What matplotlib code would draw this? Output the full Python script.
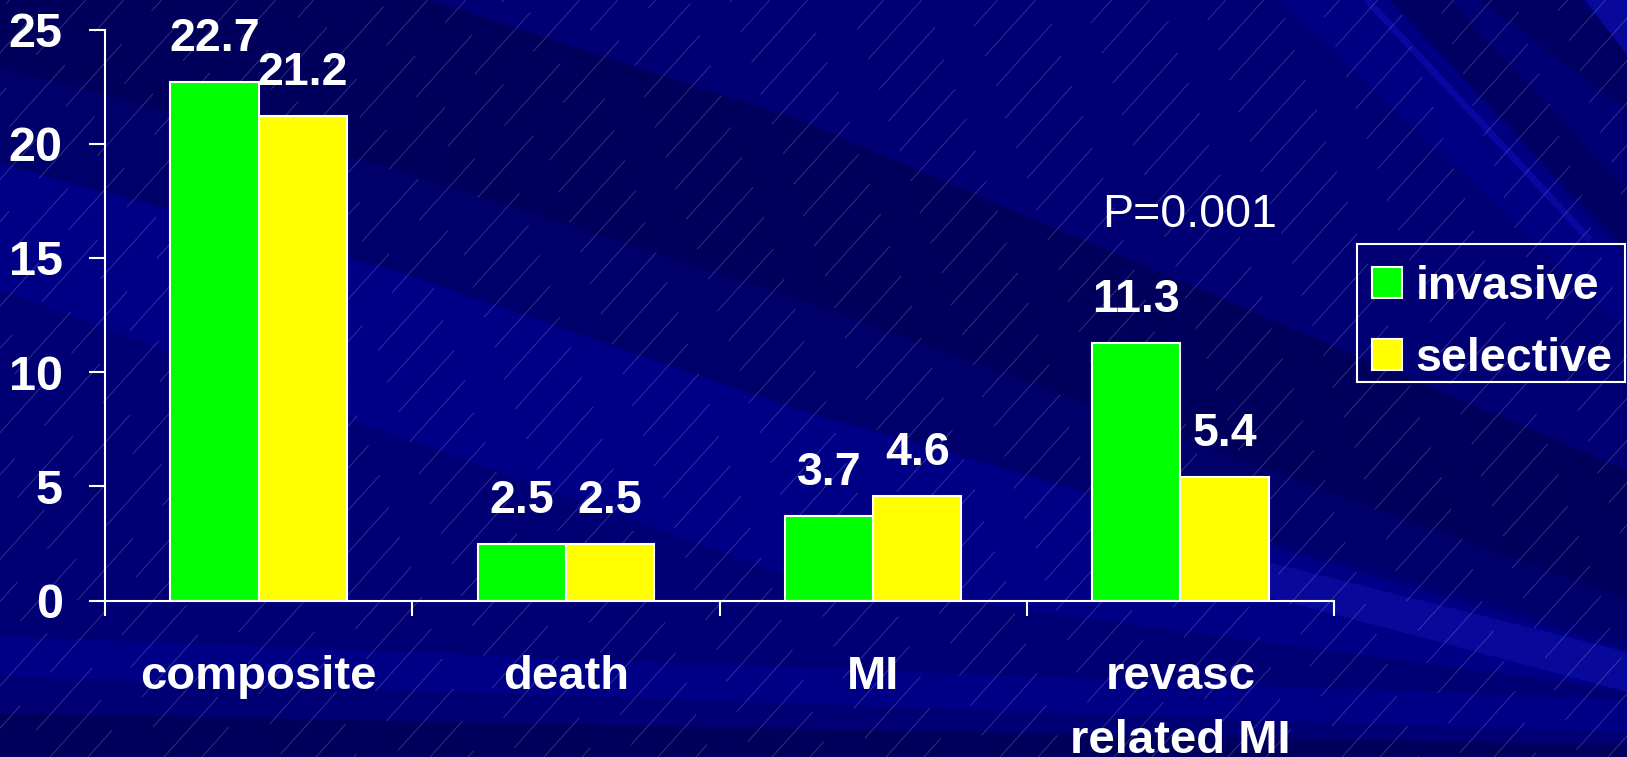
import numpy as np
import matplotlib
matplotlib.use("Agg")
import matplotlib.pyplot as plt
from matplotlib.patches import Rectangle

# ---- data -------------------------------------------------------------
categories = ["composite", "death", "MI", "revasc\nrelated MI"]
invasive = [22.7, 2.5, 3.7, 11.3]
selective = [21.2, 2.5, 4.6, 5.4]
series_names = ["invasive", "selective"]
y_ticks = [0, 5, 10, 15, 20, 25]
p_note = "P=0.001"

# ---- figure -----------------------------------------------------------
W, H, DPI = 1627, 757, 100
plt.rcParams["font.family"] = ["Liberation Sans", "DejaVu Sans"]
plt.rcParams["lines.scale_dashes"] = False

fig = plt.figure(figsize=(W / DPI, H / DPI), dpi=DPI, facecolor="#000074")

# slide-style backdrop: diagonal shaded streaks plus a fine hatch of lines
bg = fig.add_axes([0, 0, 1, 1], zorder=0)
bg.set_xlim(0, W)
bg.set_ylim(H, 0)
bg.axis("off")

DARK, LIGHT, BRIGHT = "#00005c", "#000086", "#08089a"

streaks = [
    (DARK, [(0, 0), (430, 0), (800, 120), (1627, 470), (1627, 600),
            (800, 300), (393, 169), (0, 68)]),
    ("#00006a", [(0, 68), (393, 169), (800, 300), (1627, 600), (1627, 640),
                 (800, 410), (393, 270), (0, 164)]),
    (LIGHT, [(0, 164), (393, 270), (800, 410), (1627, 650), (1627, 690),
             (800, 580), (393, 434), (0, 290)]),
    (BRIGHT, [(1100, 520), (1627, 652), (1627, 692), (1100, 552)]),
    (LIGHT, [(0, 636), (1627, 700), (1627, 732), (0, 676)]),
    (DARK, [(0, 713), (1627, 745), (1627, 757), (0, 757)]),
    ("#000082", [(1280, 0), (1390, 0), (1627, 260), (1627, 330)]),
    ("#000062", [(1390, 0), (1450, 0), (1627, 190), (1627, 250)]),
    ("#000062", [(1480, 0), (1580, 0), (1627, 50), (1627, 110)]),
    (BRIGHT, [(1585, 0), (1627, 0), (1627, 55)]),
]
for color, pts in streaks:
    xs, ys = zip(*pts)
    bg.fill(xs, ys, color=color, lw=0)
bg.plot([1367, 1590], [0, 240], color="#0808a0", lw=5, solid_capstyle="butt")

run = 1.0 / np.tan(np.radians(48))
for k, c in enumerate(range(-900, W + 40, 38)):
    bg.plot([c, c + H * run], [H, 0], color="white", lw=0.6, alpha=0.22,
            linestyle=((k * 29) % 90, (60, 32)))

# legend box outline
bg.add_patch(Rectangle((1357, 244), 268, 138, facecolor="none",
                       edgecolor="white", lw=1.5, zorder=5))

# ---- chart ------------------------------------------------------------
ax = fig.add_axes([105 / W, 1 - 600.7 / H, (1334 - 105) / W, (600.7 - 29.5) / H],
                  zorder=1)
ax.patch.set_alpha(0)

x = np.arange(len(categories))
w = 0.287
bars_inv = ax.bar(x - w / 2, invasive, w, color="#00ff00", edgecolor="white",
                  linewidth=1.5, label=series_names[0])
bars_sel = ax.bar(x + w / 2, selective, w, color="#ffff00", edgecolor="white",
                  linewidth=1.5, label=series_names[1])

for bars, vals in ((bars_inv, invasive), (bars_sel, selective)):
    for rect, v in zip(bars, vals):
        ax.annotate(f"{v}", (rect.get_x() + rect.get_width() / 2, v),
                    xytext=(0, 22.3), textcoords="offset points",
                    ha="center", va="baseline", fontsize=33.5,
                    fontweight="bold", color="white")

ax.set_xlim(-0.5, 3.5)
ax.set_ylim(0, 25)
ax.set_yticks(y_ticks)
ax.set_yticklabels([str(t) for t in y_ticks], fontsize=35, fontweight="bold",
                   color="white")
ax.set_xticks(np.arange(-0.5, 3.6, 1.0))
ax.set_xticklabels([])
ax.set_xticks(x, minor=True)
ax.set_xticklabels(categories, minor=True, fontsize=34, fontweight="bold",
                   color="white")
for lbl in ax.get_xticklabels(minor=True):
    lbl.set_linespacing(1.6)

ax.tick_params(axis="y", direction="out", length=11.5, width=1.5,
               color="white", pad=19.0)
ax.tick_params(axis="x", which="major", direction="out", length=10.8,
               width=1.5, color="white")
ax.tick_params(axis="x", which="minor", length=0, pad=39)

for side in ("top", "right"):
    ax.spines[side].set_visible(False)
for side in ("left", "bottom"):
    ax.spines[side].set_color("white")
    ax.spines[side].set_linewidth(1.5)

ax.text(3.031, 16.35, p_note, ha="center", va="baseline", fontsize=33.5,
        color="white")

ax.legend(handles=[bars_inv, bars_sel], loc="upper left",
          bbox_to_anchor=(1358 / W, 1 - 251 / H),
          bbox_transform=fig.transFigure, borderaxespad=0,
          prop={"size": 33.5, "weight": "bold"}, labelcolor="white",
          handlelength=0.64, handleheight=0.66, handletextpad=0.3,
          borderpad=0.3, labelspacing=0.6, frameon=False)

fig.savefig("out.png", dpi=DPI, facecolor=fig.get_facecolor())
